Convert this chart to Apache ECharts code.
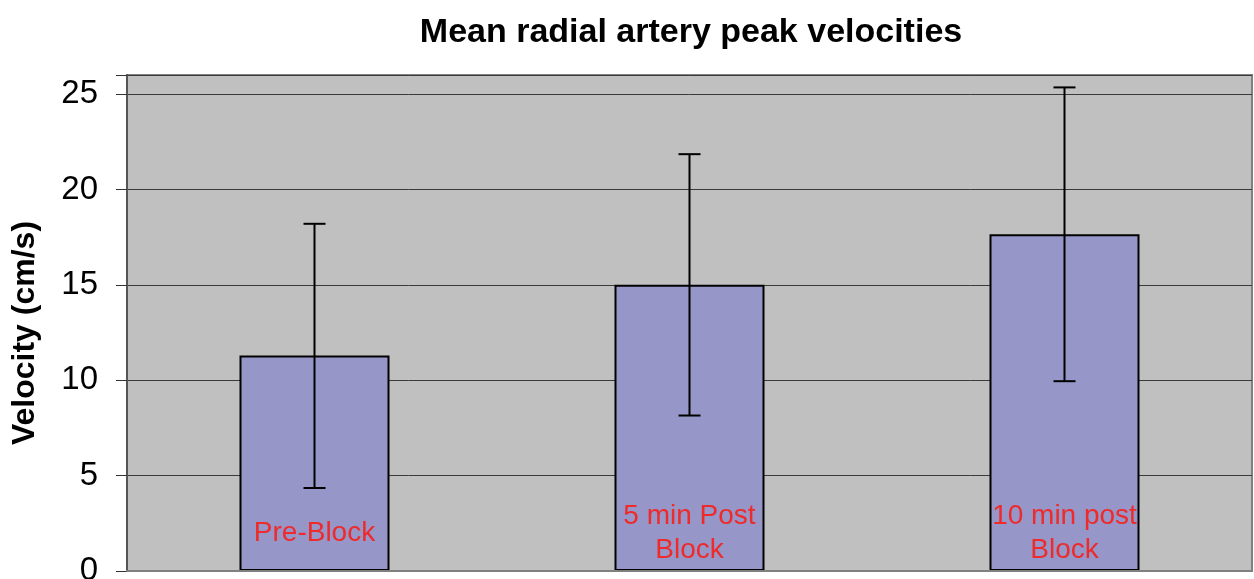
<!DOCTYPE html>
<html>
<head>
<meta charset="utf-8">
<script src="https://cdn.jsdelivr.net/npm/echarts@6/dist/echarts.min.js"></script>
<style>
  html, body { margin: 0; padding: 0; background: #fff; }
  #chart { width: 1254px; height: 579px; }
</style>
</head>
<body>
<div id="chart"></div>
<script>
const categories = ["Pre-Block", "5 min Post\nBlock", "10 min post\nBlock"];
const meanVelocity = [11.3, 15.0, 17.65];
const errorLow = [4.35, 8.15, 9.95];
const errorHigh = [18.2, 21.85, 25.35];

const chart = echarts.init(document.getElementById("chart"));

const errorData = categories.map((c, i) => [i, errorLow[i], errorHigh[i]]);

chart.setOption({
  animation: false,
  textStyle: { fontFamily: "Liberation Sans, Arial, sans-serif" },
  title: {
    text: "Mean radial artery peak velocities",
    left: 686,
    top: 11,
    textAlign: "center",
    textStyle: { fontSize: 34, fontWeight: "bold", color: "#000" }
  },
  grid: {
    left: 127,
    right: 2,
    top: 75,
    bottom: 8,
    outerBoundsMode: "none",
    containLabel: false,
    show: true,
    backgroundColor: "#c0c0c0",
    borderColor: "#808080",
    borderWidth: 2
  },
  xAxis: {
    type: "category",
    data: categories,
    z: 10,
    axisLine: { lineStyle: { color: "#808080", width: 2 } },
    axisTick: { show: false },
    axisLabel: {
      margin: -38,
      verticalAlign: "middle",
      color: "#ee2a2a",
      fontSize: 28,
      lineHeight: 34,
      interval: 0
    }
  },
  yAxis: {
    type: "value",
    min: 0,
    max: 26,
    interval: 5,
    name: "Velocity (cm/s)",
    nameLocation: "middle",
    nameRotate: 90,
    nameGap: 86,
    nameTextStyle: { fontSize: 32, fontWeight: "bold", color: "#000", padding: [0, 20, 0, 0] },
    axisLine: { show: true, lineStyle: { color: "#555", width: 2 } },
    axisTick: { show: true, length: 11, lineStyle: { color: "#333" } },
    axisLabel: {
      margin: 29,
      fontSize: 33,
      color: "#000",
      formatter: v => (v % 5 === 0 ? v : "")
    },
    splitLine: { lineStyle: { color: "#3a3a3a", width: 1 } }
  },
  series: [
    {
      type: "bar",
      data: meanVelocity,
      barWidth: "40%",
      itemStyle: { color: "#9696c9", borderColor: "#000", borderWidth: 2 }
    },
    {
      type: "custom",
      data: errorData,
      z: 5,
      renderItem: (params, api) => {
        const lo = api.coord([api.value(0), api.value(1)]);
        const hi = api.coord([api.value(0), api.value(2)]);
        const half = 11;
        const style = { stroke: "#000", lineWidth: 2 };
        return {
          type: "group",
          children: [
            { type: "line", shape: { x1: hi[0], y1: hi[1], x2: lo[0], y2: lo[1] }, style },
            { type: "line", shape: { x1: hi[0] - half, y1: hi[1], x2: hi[0] + half, y2: hi[1] }, style },
            { type: "line", shape: { x1: lo[0] - half, y1: lo[1], x2: lo[0] + half, y2: lo[1] }, style }
          ]
        };
      }
    }
  ]
});
</script>
</body>
</html>
